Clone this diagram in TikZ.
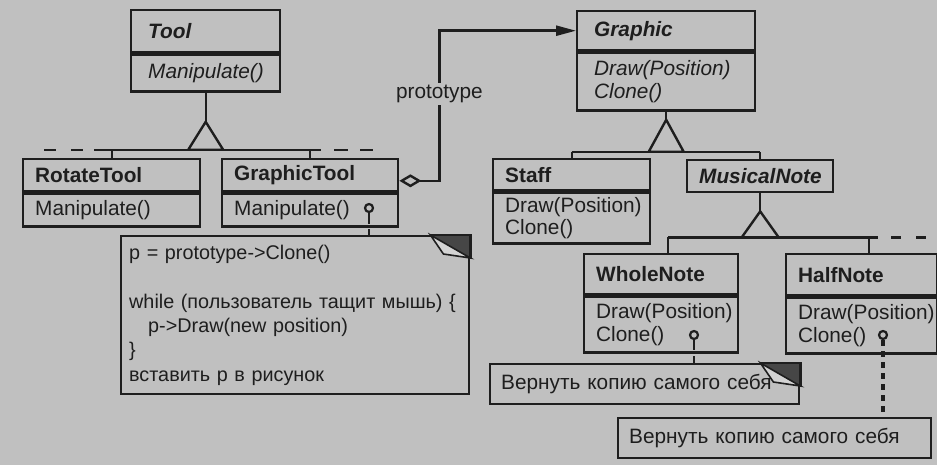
\documentclass[tikz,border=0pt]{standalone}
\usepackage{fontspec}
\setmainfont{Liberation Sans}
\usetikzlibrary{arrows.meta,calc}

\definecolor{paper}{RGB}{192,192,192}
\definecolor{ink}{RGB}{30,30,30}
\definecolor{fold}{RGB}{70,70,70}

\tikzset{
  cls/.style={draw=ink, line width=1.2pt, anchor=north west, inner xsep=6pt,
    inner ysep=0pt, align=left, text=ink, font=\fontsize{10.4}{11.2}\selectfont},
  memo/.style={cls, font=\fontsize{10.4}{12.2}\selectfont},
  wire/.style={draw=ink, line width=1.2pt},
  lolli/.style={circle, draw=ink, line width=1.1pt, fill=paper, minimum size=4pt, inner sep=0pt},
}

% dog-eared corner of a note
\newcommand{\dogear}[1]{%
  \fill[fold] ($(#1.north east)+(-40,0)$) -- (#1.north east) -- ($(#1.north east)+(0,23)$) -- cycle;
  \draw[ink, line width=0.8pt, fill=paper!70!white] ($(#1.north east)+(-40,0)$) -- ($(#1.north east)+(0,23)$) -- ($(#1.north east)+(-27,19)$) -- cycle;
  \draw[wire] ($(#1.north east)+(-40,0)$) -- (#1.north east) -- ($(#1.north east)+(0,23)$);
}

\begin{document}
\begin{tikzpicture}[x=0.5pt, y=-0.5pt]
	\useasboundingbox (0,0) rectangle (937,465);
	\fill[paper] (0,0) rectangle (937,465);
	
	% Classes
	\node[cls, text width=57.5pt, inner xsep=8.5pt, minimum height=21pt] (tool) at (130,9) {\textbf{\textit{Tool}}};
	\node[cls, text width=57.5pt, inner xsep=8.5pt, minimum height=18.5pt] (toolops) at (tool.south west) {\textit{Manipulate()}};
	
	\node[cls, text width=76.5pt, minimum height=16pt] (rot) at (22,158) {\textbf{RotateTool}};
	\node[cls, text width=76.5pt, minimum height=16.5pt] (rotops) at (rot.south west) {Manipulate()};
	
	\node[cls, text width=76pt, minimum height=16pt] (gt) at (221,158) {\textbf{GraphicTool}};
	\node[cls, text width=76pt, minimum height=16.5pt] (gtops) at (gt.south west) {Manipulate()};
	
	\node[cls, text width=72pt, inner xsep=8.5pt, minimum height=19.5pt] (graphic) at (576,10) {\textbf{\textit{Graphic}}};
	\node[cls, text width=72pt, inner xsep=8.5pt, minimum height=29pt] (graphicops) at (graphic.south west) {\textit{Draw(Position)}\\\textit{Clone()}};
	
	\node[cls, text width=66.5pt, minimum height=15.5pt] (staff) at (492,158) {\textbf{Staff}};
	\node[cls, text width=66.5pt, minimum height=25.5pt] (staffops) at (staff.south west) {Draw(Position)\\Clone()};
	
	\node[cls, text width=61pt, minimum height=16pt] (musical) at (686,159) {\textbf{\textit{MusicalNote}}};
	
	\node[cls, text width=65pt, minimum height=20pt] (whole) at (583,253) {\textbf{WholeNote}};
	\node[cls, text width=65pt, minimum height=28pt] (wholeops) at (whole.south west) {Draw(Position)\\Clone()};
	
	\node[cls, text width=63.5pt, minimum height=20.5pt] (half) at (785,253) {\textbf{HalfNote}};
	\node[cls, text width=63.5pt, minimum height=28pt] (halfops) at (half.south west) {Draw(Position)\\Clone()};
	
	% Notes
	\node[memo, text width=166pt, inner xsep=4pt, minimum height=79pt, font=\fontsize{9.9}{12.2}\selectfont] (code) at (120,235)
	  {p = prototype->Clone()\\[12.2pt]
	   while (пользователь тащит мышь) \{\\
	   \hspace*{9.5pt}p->Draw(new position)\\
	   \}\\
	   вставить p в рисунок};
	\node[memo, text width=143.5pt, inner xsep=5.5pt, minimum height=20pt] (noteA) at (489,363) {Вернуть копию самого себя};
	\node[memo, text width=145.5pt, inner xsep=5.5pt, minimum height=20pt] (noteB) at (617,417) {Вернуть копию самого себя};
	\dogear{code}
	\dogear{noteA}
	
	% Tool hierarchy
	\draw[wire] (toolops.south) -- ++(0,29) coordinate (tipA);
	\draw[wire] (tipA) -- ++(-17.5,28) coordinate (busA) -- ++(35,0) -- cycle;
	\draw[wire] (rot.north) -- (rot.north |- busA);
	\draw[wire] (gt.north) -- (gt.north |- busA);
	\draw[wire] ($(rot.north |- busA)+(-17.5,0)$) -- ($(gt.north |- busA)+(11,0)$);
	\draw[wire, dash pattern=on 6pt off 7.5pt] ($(rot.north |- busA)+(-67.5,0)$) -- ++(50,0);
	\draw[wire, dash pattern=on 7pt off 6pt] ($(gt.north |- busA)+(24,0)$) -- ++(39,0);
	
	% Graphic hierarchy
	\draw[wire] (graphicops.south) -- ++(0,8) coordinate (tipB);
	\draw[wire] (tipB) -- ++(-17.5,32) coordinate (busB) -- ++(35,0) -- cycle;
	\draw[wire] (staff.north) -- (staff.north |- busB);
	\draw[wire] (musical.north) -- (musical.north |- busB);
	\draw[wire] (staff.north |- busB) -- (musical.north |- busB);
	
	% MusicalNote hierarchy
	\draw[wire] (musical.south) -- ++(0,18) coordinate (tipC);
	\draw[wire] (tipC) -- ++(-18.5,26) coordinate (busC) -- ++(37,0) -- cycle;
	\draw[wire] ([xshift=3.5pt]whole.north) -- ([xshift=3.5pt]whole.north |- busC);
	\draw[wire] ([xshift=3.5pt]half.north) -- ([xshift=3.5pt]half.north |- busC);
	\draw[wire] ([xshift=3.5pt]whole.north |- busC) -- ($(half.north |- busC)+(16.5,0)$);
	\draw[wire, dash pattern=on 5pt off 7.5pt] ($(half.north |- busC)+(29.5,0)$) -- ++(37,0);
	
	% prototype aggregation
	\draw[wire, {Diamond[open, length=11pt, width=6.5pt]}-{Triangle[length=10pt, width=5pt]}]
	  ([yshift=-2.8pt]gt.east) -- ++(40,0) |- node[pos=0.29, fill=paper, text=ink, inner sep=1pt,
	  font=\fontsize{10.4}{12}\selectfont] (protolabel) {prototype} (graphic.west);
	
	% Note links
	\node[lolli] (gtdot) at (369,208) {};
	\node[lolli] (wholedot) at (694,335) {};
	\node[lolli] (halfdot) at (883,335) {};
	\draw[wire, line width=1.1pt, dash pattern=on 5.5pt off 2.5pt] (gtdot.south) -- (gtdot.south |- code.north);
	\draw[wire, line width=1.1pt, dash pattern=on 5pt off 3pt] (wholedot.south) -- (wholedot.south |- noteA.north);
	\draw[wire, line width=1.6pt, dash pattern=on 3pt off 2.5pt] (halfdot.south) -- (halfdot.south |- noteB.north);
\end{tikzpicture}
\end{document}
